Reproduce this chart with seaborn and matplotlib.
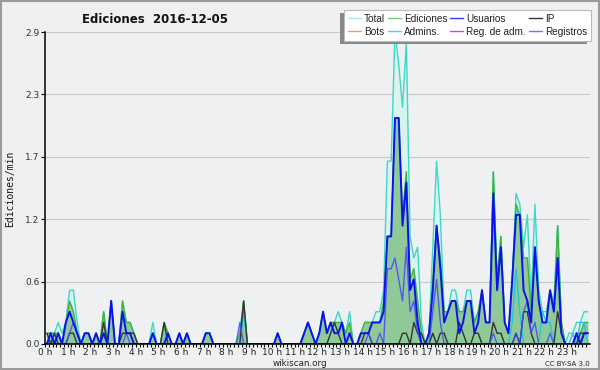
import numpy as np
import pandas as pd
import seaborn as sns
import matplotlib.pyplot as plt
from matplotlib.lines import Line2D
from matplotlib.patches import Rectangle

# edits per 10-minute slot, 144 slots (0 h - 24 h)
total = [1, 1, 1, 2, 1, 2, 5, 5, 2, 0, 1, 1, 0, 1, 0, 3, 0, 4, 0, 0, 4, 2, 2, 1,
         0, 0, 0, 0, 2, 0, 0, 2, 1, 0, 0, 1, 0, 1, 0, 0, 0, 0, 1, 1, 0, 0, 0, 0,
         0, 0, 0, 1, 4, 0, 0, 0, 0, 0, 0, 0, 0, 1, 0, 0, 0, 0, 0, 0, 1, 2, 1, 0,
         1, 3, 1, 2, 2, 3, 2, 1, 3, 0, 0, 1, 2, 2, 2, 3, 3, 5, 17, 17, 29, 26, 22, 28,
         10, 8, 9, 2, 0, 1, 9, 17, 12, 3, 3, 5, 5, 3, 3, 5, 5, 2, 3, 5, 2, 2, 16, 6,
         10, 2, 1, 6, 14, 13, 9, 12, 4, 13, 5, 3, 3, 5, 4, 11, 2, 0, 1, 1, 2, 2, 3, 3]
ediciones = [1, 1, 1, 1, 0, 2, 4, 3, 1, 0, 1, 1, 0, 1, 0, 3, 0, 4, 0, 0, 4, 2, 2, 1,
             0, 0, 0, 0, 1, 0, 0, 2, 1, 0, 0, 1, 0, 1, 0, 0, 0, 0, 1, 1, 0, 0, 0, 0,
             0, 0, 0, 1, 4, 0, 0, 0, 0, 0, 0, 0, 0, 1, 0, 0, 0, 0, 0, 0, 1, 2, 1, 0,
             1, 3, 1, 2, 2, 2, 2, 1, 2, 0, 0, 1, 2, 2, 2, 2, 2, 4, 10, 10, 21, 21, 12, 16,
             6, 7, 4, 1, 0, 1, 6, 11, 8, 3, 3, 4, 4, 3, 3, 4, 4, 2, 3, 5, 2, 2, 16, 6,
             10, 2, 1, 6, 13, 12, 8, 8, 3, 9, 4, 2, 2, 5, 3, 11, 2, 0, 0, 0, 1, 1, 2, 2]
usuarios = [0, 1, 0, 1, 0, 2, 3, 2, 1, 0, 1, 1, 0, 1, 0, 1, 0, 4, 0, 0, 3, 1, 1, 0,
            0, 0, 0, 0, 1, 0, 0, 0, 1, 0, 0, 1, 0, 1, 0, 0, 0, 0, 1, 1, 0, 0, 0, 0,
            0, 0, 0, 0, 0, 0, 0, 0, 0, 0, 0, 0, 0, 1, 0, 0, 0, 0, 0, 0, 1, 2, 1, 0,
            1, 3, 1, 2, 1, 1, 2, 0, 1, 0, 0, 1, 1, 1, 2, 2, 2, 3, 10, 10, 21, 21, 11, 15,
            5, 6, 2, 0, 0, 1, 5, 11, 7, 2, 3, 4, 4, 1, 2, 4, 4, 1, 2, 5, 2, 2, 14, 5,
            9, 2, 1, 6, 12, 12, 5, 4, 2, 9, 4, 2, 2, 5, 3, 8, 1, 0, 0, 0, 1, 0, 1, 1]
ip = [1, 0, 1, 0, 0, 0, 1, 1, 0, 0, 0, 0, 0, 0, 0, 2, 0, 0, 0, 0, 1, 1, 1, 1,
      0, 0, 0, 0, 0, 0, 0, 2, 0, 0, 0, 0, 0, 0, 0, 0, 0, 0, 0, 0, 0, 0, 0, 0,
      0, 0, 0, 0, 4, 0, 0, 0, 0, 0, 0, 0, 0, 0, 0, 0, 0, 0, 0, 0, 0, 0, 0, 0,
      0, 0, 0, 1, 2, 1, 0, 0, 0, 0, 0, 0, 1, 1, 0, 0, 0, 0, 0, 0, 0, 0, 1, 1,
      0, 2, 1, 1, 0, 0, 1, 0, 1, 1, 0, 0, 0, 2, 1, 0, 0, 1, 1, 0, 0, 0, 2, 1,
      1, 0, 0, 0, 1, 0, 3, 3, 1, 0, 0, 0, 0, 0, 0, 3, 1, 0, 0, 0, 0, 1, 1, 1]
bots = [0] * 144
admins = [0, 0, 0, 0, 0, 0, 0, 0, 0, 0, 0, 0, 0, 0, 0, 0, 0, 0, 0, 0, 0, 0, 0, 0,
          0, 0, 0, 0, 0, 0, 0, 0, 0, 0, 0, 0, 0, 0, 0, 0, 0, 0, 0, 0, 0, 0, 0, 0,
          0, 0, 0, 0, 3, 0, 0, 0, 0, 0, 0, 0, 0, 0, 0, 0, 0, 0, 0, 0, 0, 0, 0, 0,
          0, 0, 0, 0, 0, 0, 0, 0, 0, 0, 0, 0, 0, 0, 0, 0, 0, 0, 0, 0, 0, 0, 0, 0,
          0, 0, 0, 0, 0, 0, 0, 0, 0, 0, 0, 0, 0, 0, 0, 0, 0, 0, 0, 0, 0, 0, 0, 0,
          0, 0, 0, 2, 7, 3, 0, 0, 0, 0, 0, 3, 2, 2, 0, 0, 0, 0, 0, 1, 0, 2, 2, 0]
reg_adm = [0] * 144
registros = [0, 1, 0, 0, 0, 0, 1, 2, 1, 0, 0, 0, 0, 0, 0, 0, 0, 0, 0, 0, 0, 1, 0, 0,
             0, 0, 0, 0, 0, 0, 0, 0, 0, 0, 0, 0, 0, 0, 0, 0, 0, 0, 0, 0, 0, 0, 0, 0,
             0, 0, 0, 2, 0, 0, 0, 0, 0, 0, 0, 0, 0, 0, 0, 0, 0, 0, 0, 0, 0, 0, 0, 0,
             0, 0, 0, 0, 0, 0, 0, 0, 0, 0, 0, 0, 0, 1, 0, 0, 1, 0, 7, 7, 8, 6, 4, 9,
             3, 4, 1, 0, 0, 0, 3, 6, 2, 0, 0, 0, 0, 0, 0, 0, 0, 0, 0, 0, 0, 0, 1, 0,
             0, 0, 0, 0, 1, 0, 3, 4, 1, 2, 0, 0, 0, 1, 0, 0, 0, 0, 0, 0, 1, 0, 1, 1]

hour_labels = [f"{h} h" for h in range(24)]
y_ticks = [0, 0.58, 1.16, 1.74, 2.32, 2.9]
y_labels = ["0.0", "0.6", "1.2", "1.7", "2.3", "2.9"]

df = pd.DataFrame({
    "hour": (np.arange(144) + 0.5) / 6,
    "Total": np.array(total) / 10,
    "Ediciones": np.array(ediciones) / 10,
    "Usuarios": np.array(usuarios) / 10,
    "IP": np.array(ip) / 10,
    "Bots": np.array(bots) / 10,
    "Admins.": np.array(admins) / 10,
    "Reg. de adm.": np.array(reg_adm) / 10,
    "Registros": np.array(registros) / 10,
})

bg = "#eef0f2"
sns.set_theme(style="white")
plt.rcParams["font.family"] = ["DejaVu Sans"]

fig = plt.figure(figsize=(6, 3.7), dpi=100, facecolor=bg)
ax = fig.add_axes([0.075, 0.0703, 0.908, 0.8432], facecolor=bg)

# fills
ax.fill_between(df["hour"], df["Total"], color="#d9f3ee", lw=0, zorder=1)
ax.fill_between(df["hour"], df["Ediciones"], color="#90c998", lw=0, zorder=1.2)

# lines
styles = [
    ("Total", "#3fd8c8", 1.0, 1.0),
    ("Ediciones", "#3cb43c", 1.0, 1.0),
    ("Bots", "#ffa020", 1.0, 1.0),
    ("Reg. de adm.", "#e040e0", 1.0, 1.0),
    ("Admins.", "#22c6e0", 1.0, 1.0),
    ("IP", "#333333", 1.0, 1.0),
    ("Registros", "#4646ff", 1.0, 0.85),
    ("Usuarios", "#0a12ee", 1.4, 1.0),
]
for name, col, lw, a in styles:
    sns.lineplot(data=df, x="hour", y=name, color=col, lw=lw, alpha=a,
                 ax=ax, legend=False, zorder=2)

ax.set_xlim(0, 24)
ax.set_ylim(0, 2.9)
ax.set_xticks(range(24))
ax.set_xticklabels(hour_labels, fontsize=6.5, color="#222")
ax.set_xticks(np.arange(0, 24, 1 / 6), minor=True)
ax.set_yticks(y_ticks)
ax.set_yticklabels(y_labels, fontsize=6.5, color="#333")
ax.tick_params(axis="x", which="both", bottom=True, length=2.5, width=0.8,
               color="black", pad=0.5)
ax.tick_params(axis="y", left=True, length=3, width=0.8, color="black", pad=1)
ax.set_xlabel("")
ax.set_ylabel("")
ax.grid(axis="y", color="#c8c8c8", lw=0.8)
ax.grid(axis="x", visible=False)
for s in ["top", "right"]:
    ax.spines[s].set_visible(False)
for s in ["left", "bottom"]:
    ax.spines[s].set_color("black")
    ax.spines[s].set_linewidth(1.1)
    ax.spines[s].set_zorder(5)

# legend
order = ["Total", "Ediciones", "Usuarios", "IP",
         "Bots", "Admins.", "Reg. de adm.", "Registros"]
legend_colors = {"Total": "#a8ece4", "Ediciones": "#70d070", "Usuarios": "#3a3aff",
                 "IP": "#333333", "Bots": "#ffa020", "Admins.": "#40d8e8",
                 "Reg. de adm.": "#e040e0", "Registros": "#7070ff"}
handles, labels = [], []
for c in range(4):
    for r in range(2):
        nm = order[r * 4 + c]
        handles.append(Line2D([], [], color=legend_colors[nm], lw=1))
        labels.append(nm)
leg = fig.legend(handles, labels, ncol=4, loc="upper right",
                 bbox_to_anchor=(0.985, 0.973),
                 prop={"family": "Liberation Sans", "size": 7.2},
                 handlelength=1.3, handletextpad=0.3, columnspacing=0.3,
                 labelspacing=0.3, borderpad=0.4, borderaxespad=0,
                 frameon=True, fancybox=False, framealpha=1)
leg.get_frame().set_facecolor("white")
leg.get_frame().set_edgecolor("#bbbbbb")
leg.get_frame().set_linewidth(0.8)
for t in leg.get_texts():
    t.set_color("#222")

fig.canvas.draw()
bb = leg.get_window_extent().transformed(fig.transFigure.inverted())
fig.patches.append(Rectangle((bb.x0 - 0.006, bb.y0 - 0.008), bb.width, bb.height,
                             transform=fig.transFigure, facecolor="#888888",
                             edgecolor="none", zorder=leg.get_zorder() - 0.1))

# texts
fig.text(0.258, 0.946, "Ediciones  2016-12-05", ha="center", va="center",
         fontsize=8.5, fontweight="bold", color="#111")
fig.text(0.017, 0.49, "Ediciones/min", rotation=90, ha="center", va="center",
         fontsize=7, family="DejaVu Sans Mono", color="#111")
fig.text(0.5, 0.017, "wikiscan.org", ha="center", va="center",
         fontsize=6.3, color="#222")
fig.text(0.983, 0.017, "CC BY-SA 3.0", ha="right", va="center",
         fontsize=5, color="#222")

# outer border
fig.patches.append(Rectangle((0.001, 0.002), 0.997, 0.995, transform=fig.transFigure,
                             fill=False, edgecolor="#9a9a9a", lw=1.5))

fig.savefig("out.png", dpi=100, facecolor=bg)
